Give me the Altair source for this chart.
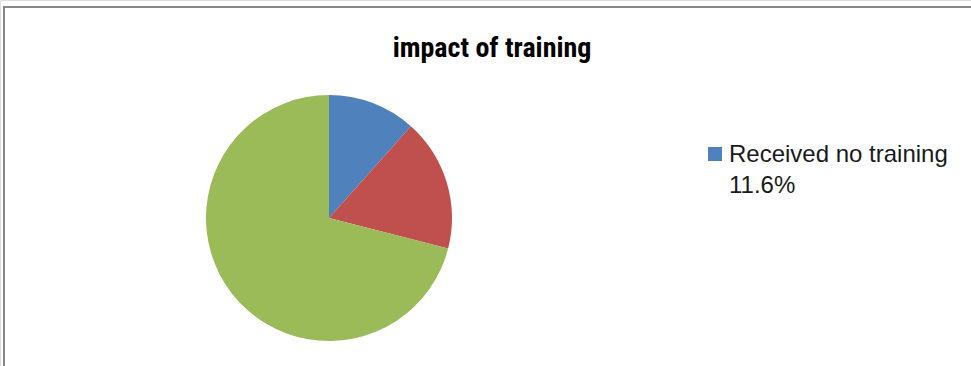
import altair as alt
import pandas as pd

# Data
categories = ["Received no training", "Received some training", "Received full training"]
shares = [11.6, 17.4, 71.0]
colors = ["#4F81BD", "#C0504D", "#9BBB59"]
title_text = ["impact of training"]
legend_items = ["Received no training"]
legend_pct = [11.6]

W, H = 971, 366

pie_df = pd.DataFrame({"category": categories, "share": shares, "order": list(range(len(categories)))})
color_scale = alt.Scale(domain=categories, range=colors)

pie = alt.Chart(pie_df).mark_arc(outerRadius=123).encode(
    theta=alt.Theta("share:Q", stack=True),
    color=alt.Color("category:N", scale=color_scale, legend=None),
    order=alt.Order("order:Q"),
    x=alt.value(329),
    y=alt.value(218),
)

frame_df = pd.DataFrame({"k": [0]})
frame = alt.Chart(frame_df).mark_rect(fill=None, stroke="#878787", strokeWidth=2).encode(
    x=alt.value(4), x2=alt.value(990), y=alt.value(7), y2=alt.value(400)
)

title_df = pd.DataFrame({"t": title_text})
title = alt.Chart(title_df).mark_text(
    font="Liberation Sans Narrow, Arial Narrow, Roboto Condensed, Liberation Sans",
    fontSize=28, fontWeight="bold", color="#000000", align="center", baseline="alphabetic"
).encode(text="t:N", x=alt.value(492), y=alt.value(57))

leg_df = pd.DataFrame({
    "category": legend_items,
    "label": [f"{c}\n{p}%" for c, p in zip(legend_items, legend_pct)],
})
leg_sym = alt.Chart(leg_df).mark_square(size=196, opacity=1).encode(
    color=alt.Color("category:N", scale=color_scale, legend=None),
    x=alt.value(715), y=alt.value(154),
)
leg_txt = alt.Chart(leg_df).mark_text(
    font="Liberation Sans, Arial, sans-serif", fontSize=24, color="#1a1a1a",
    align="left", baseline="alphabetic", lineBreak="\n", lineHeight=31
).encode(text="label:N", x=alt.value(729), y=alt.value(162))

chart = alt.layer(frame, pie, title, leg_sym, leg_txt).properties(
    width=W, height=H, padding=0, autosize=alt.AutoSizeParams(type="none")
).configure_view(stroke=None).configure(background="white")

chart.save("out.html", embed_options={"renderer": "svg", "actions": False})
